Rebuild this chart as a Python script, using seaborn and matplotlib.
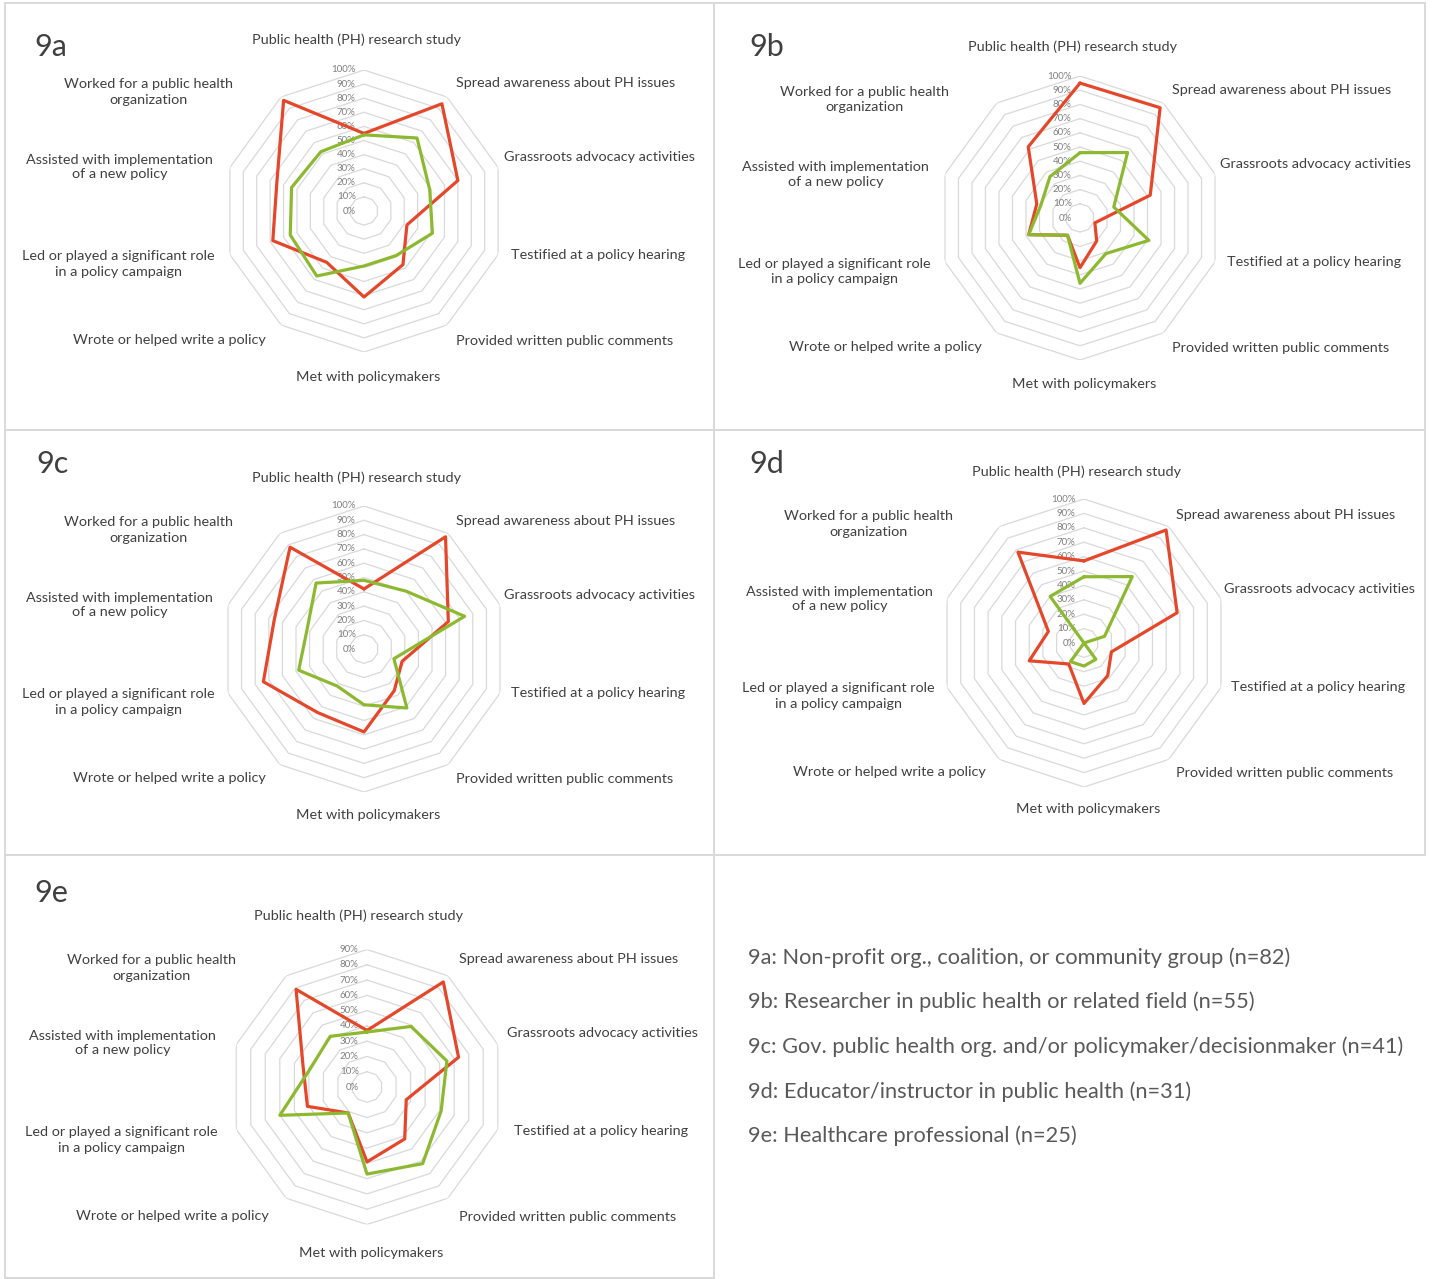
import numpy as np
import pandas as pd
import matplotlib
matplotlib.use("Agg")
import matplotlib.pyplot as plt
from matplotlib.patches import Rectangle
import seaborn as sns

# Activities shown on each spoke, clockwise from the top
categories = [
    "Public health (PH) research study",
    "Spread awareness about PH issues",
    "Grassroots advocacy activities",
    "Testified at a policy hearing",
    "Provided written public comments",
    "Met with policymakers",
    "Wrote or helped write a policy",
    "Led or played a significant role\nin a policy campaign",
    "Assisted with implementation\nof a new policy",
    "Worked for a public health\norganization",
]

# Percent values per group (red series, green series)
red_9a = [55, 94, 70, 32, 47, 61, 45, 68, 65, 97]
green_9a = [54, 64, 49, 51, 39, 39, 57, 55, 54, 52]

red_9b = [95, 96, 52, 11, 20, 35, 15, 38, 32, 62]
green_9b = [46, 57, 25, 51, 31, 46, 15, 38, 29, 36]

red_9c = [42, 97, 62, 28, 36, 58, 55, 74, 66, 88]
green_9c = [48, 50, 74, 22, 51, 39, 32, 48, 42, 57]

red_9d = [57, 97, 68, 20, 28, 42, 18, 40, 26, 78]
green_9d = [46, 57, 15, 0, 14, 16, 16, 0, 0, 40]

red_9e = [37, 85, 63, 27, 42, 49, 21, 41, 44, 79]
green_9e = [36, 49, 55, 51, 62, 57, 21, 60, 39, 41]

panel_names = ["9a", "9b", "9c", "9d", "9e"]
scale_max = [100, 100, 100, 100, 90]

group_notes = [
    "9a: Non-profit org., coalition, or community group (n=82)",
    "9b: Researcher in public health or related field (n=55)",
    "9c: Gov. public health org. and/or policymaker/decisionmaker (n=41)",
    "9d: Educator/instructor in public health (n=31)",
    "9e: Healthcare professional (n=25)",
]

series_values = {
    "9a": (red_9a, green_9a),
    "9b": (red_9b, green_9b),
    "9c": (red_9c, green_9c),
    "9d": (red_9d, green_9d),
    "9e": (red_9e, green_9e),
}

# ---- layout (figure pixels) ----
W, H, DPI = 1432, 1279, 100
RED = "#E4472A"
GREEN = "#8DB931"
GRID = "#d9d9d9"
TEXT = "#404040"

panel_boxes = {
    "9a": (5, 3, 714, 430),
    "9b": (714, 3, 1425, 430),
    "9c": (5, 430, 714, 855),
    "9d": (714, 430, 1425, 855),
    "9e": (5, 855, 714, 1278),
}
title_pos = {"9a": (34, 47), "9b": (749, 47), "9c": (36, 464), "9d": (749, 464), "9e": (34, 893)}
chart_center = {"9a": (364, 211), "9b": (1080, 218), "9c": (364, 649), "9d": (1084, 643), "9e": (367, 1087)}
chart_radius = {"9a": 141, "9b": 142, "9c": 143, "9d": 144, "9e": 137.5}

# label anchor offsets from the chart centre (pixels, y up) and alignment
label_place = [
    (-8, 171, "center"),
    (92, 128, "left"),
    (140, 54, "left"),
    (147, -44, "left"),
    (92, -130, "left"),
    (4, -166, "center"),
    (-98, -129, "right"),
    (-149, -53, "right"),
    (-151, 44, "right"),
    (-131, 119, "right"),
]

sns.set_theme(style="white")
plt.rcParams["font.family"] = ["Lato", "DejaVu Sans"]

fig = plt.figure(figsize=(W / DPI, H / DPI), dpi=DPI, facecolor="white")

n = len(categories)
theta = np.linspace(0, 2 * np.pi, n, endpoint=False)
theta_closed = np.append(theta, 2 * np.pi)

for name, vmax in zip(panel_names, scale_max):
    x0, y0, x1, y1 = panel_boxes[name]
    fig.patches.append(Rectangle((x0 / W, 1 - y1 / H), (x1 - x0) / W, (y1 - y0) / H,
                                 transform=fig.transFigure, fill=False,
                                 edgecolor=GRID, linewidth=1.4))
    tx, ty = title_pos[name]
    fig.text(tx / W, 1 - ty / H, name, fontsize=22, color=TEXT, ha="left", va="center")

    cx, cy = chart_center[name]
    R = chart_radius[name]
    ax = fig.add_axes([(cx - R) / W, 1 - (cy + R) / H, 2 * R / W, 2 * R / H], projection="polar")
    ax.set_theta_zero_location("N")
    ax.set_theta_direction(-1)
    ax.set_ylim(0, vmax)
    ax.grid(False)
    ax.set_xticks([])
    ax.set_yticks([])
    ax.spines["polar"].set_visible(False)
    ax.patch.set_alpha(0)

    # decagonal gridlines
    for lvl in range(10, vmax + 1, 10):
        ax.plot(theta_closed, [lvl] * (n + 1), color=GRID, linewidth=0.9, zorder=1)

    # radial scale labels along the top spoke
    for lvl in range(0, vmax + 1, 10):
        ax.annotate(f"{lvl}%", xy=(0, lvl), xytext=(-6, 0), textcoords="offset points",
                    ha="right", va="center", fontsize=7, color="#7f7f7f", zorder=2)

    red_vals, green_vals = series_values[name]
    df = pd.concat([
        pd.DataFrame({"theta": theta_closed, "value": list(red_vals) + [red_vals[0]], "series": "Series 1"}),
        pd.DataFrame({"theta": theta_closed, "value": list(green_vals) + [green_vals[0]], "series": "Series 2"}),
    ], ignore_index=True)
    sns.lineplot(data=df, x="theta", y="value", hue="series", sort=False, estimator=None,
                 palette={"Series 1": RED, "Series 2": GREEN}, linewidth=2.3,
                 legend=False, ax=ax, zorder=3)
    ax.set_xlabel("")
    ax.set_ylabel("")
    ax.set_ylim(0, vmax)

    for cat, (dx, dy, ha) in zip(categories, label_place):
        ax.annotate(cat, xy=(0, 0), xytext=(dx, dy), textcoords="offset pixels",
                    ha=ha, va="center", multialignment="center", linespacing=1.3,
                    fontsize=10.4, color=TEXT, annotation_clip=False)

for i, note in enumerate(group_notes):
    y = [958, 1002, 1047, 1092, 1136][i]
    fig.text(748 / W, 1 - y / H, note, fontsize=15.7, color="#595959", ha="left", va="center")

fig.savefig("out.png", dpi=DPI, facecolor="white")
